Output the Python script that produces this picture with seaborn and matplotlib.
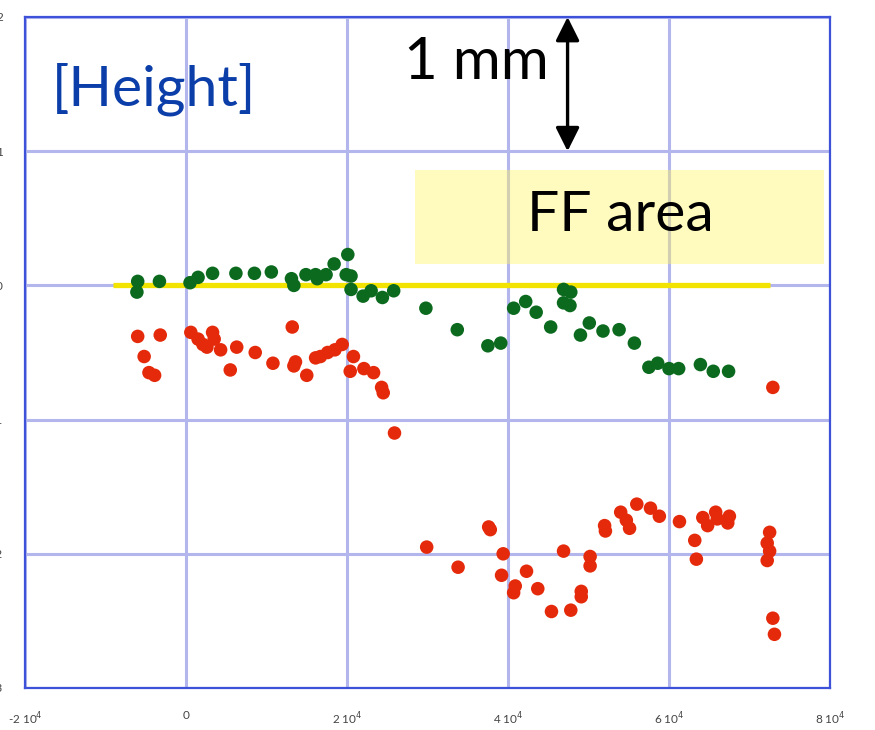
import numpy as np
import pandas as pd
import matplotlib
matplotlib.use("Agg")
import matplotlib.pyplot as plt
import seaborn as sns

# ---- data (x in units of 1e4, y in mm) ----
green_x = [-0.60, -0.61, -0.33, 0.05, 0.15, 0.33, 0.62, 0.85, 1.06, 1.31, 1.34, 1.49, 1.61, 1.63,
           1.74, 1.84, 2.01, 1.99, 2.05, 2.05, 2.20, 2.30, 2.44, 2.58, 2.98, 3.37, 3.75, 3.91,
           4.07, 4.22, 4.35, 4.53, 4.69, 4.78, 4.69, 4.77, 4.90, 5.01, 5.18, 5.38, 5.57, 5.75,
           5.86, 6.00, 6.12, 6.39, 6.55, 6.74]
green_y = [0.03, -0.05, 0.03, 0.02, 0.06, 0.09, 0.09, 0.09, 0.10, 0.05, 0.00, 0.08, 0.08, 0.05,
           0.08, 0.16, 0.23, 0.08, 0.07, -0.03, -0.08, -0.04, -0.09, -0.04, -0.17, -0.33, -0.45, -0.43,
           -0.17, -0.12, -0.20, -0.31, -0.03, -0.05, -0.13, -0.15, -0.37, -0.28, -0.34, -0.33, -0.43, -0.61,
           -0.58, -0.62, -0.62, -0.59, -0.64, -0.64]

red_x = [-0.60, -0.52, -0.46, -0.39, -0.32, 0.06, 0.15, 0.21, 0.26, 0.33, 0.35, 0.43, 0.63, 0.55,
         0.86, 1.08, 1.32, 1.36, 1.34, 1.50, 1.61, 1.67, 1.76, 1.85, 1.94, 2.08, 2.04, 2.21, 2.33,
         2.43, 2.45, 2.59, 2.99, 3.38, 3.76, 3.78, 3.94, 3.92, 4.09, 4.07, 4.23, 4.37, 4.54, 4.69,
         4.78, 4.91, 4.91, 5.02, 5.02, 5.20, 5.21, 5.40, 5.47, 5.51, 5.60, 5.77, 5.88, 6.13, 6.32,
         6.34, 6.42, 6.48, 6.58, 6.60, 6.75, 6.73, 7.25, 7.22, 7.25, 7.22, 7.29, 7.31, 7.29]
red_y = [-0.38, -0.53, -0.65, -0.67, -0.37, -0.35, -0.40, -0.44, -0.46, -0.35, -0.40, -0.48, -0.46, -0.63,
         -0.50, -0.58, -0.31, -0.57, -0.60, -0.67, -0.54, -0.53, -0.50, -0.48, -0.44, -0.53, -0.64, -0.62, -0.65,
         -0.76, -0.80, -1.10, -1.95, -2.10, -1.80, -1.82, -2.00, -2.16, -2.24, -2.29, -2.13, -2.26, -2.43, -1.98,
         -2.42, -2.28, -2.32, -2.02, -2.09, -1.79, -1.83, -1.69, -1.75, -1.81, -1.63, -1.66, -1.72, -1.76, -1.90,
         -2.04, -1.73, -1.79, -1.69, -1.74, -1.72, -1.77, -1.84, -1.92, -1.98, -2.05, -2.48, -2.60, -0.76]

x_ticks = [-2e4, 0, 2e4, 4e4, 6e4, 8e4]
x_tick_labels = ["-2 10$^4$", "0", "2 10$^4$", "4 10$^4$", "6 10$^4$", "8 10$^4$"]
y_ticks = [2, 1, 0, -1, -2, -3]
y_tick_labels = ["2", "1", "0", "-1", "-2", "-3"]

ref_line_x = [-0.91e4, 7.26e4]
ref_line_y = 0.0
ff_box_x = [2.85e4, 7.92e4]
ff_box_y = [0.16, 0.86]

df = pd.DataFrame({
    "x": np.array(green_x + red_x) * 1e4,
    "y": green_y + red_y,
    "series": ["green"] * len(green_x) + ["red"] * len(red_x),
})

sns.set_theme(style="white")
plt.rcParams["font.family"] = ["Lato", "DejaVu Sans"]

fig = plt.figure(figsize=(8.75, 7.30), dpi=100)
ax = fig.add_axes([25 / 875, 42 / 730, 805 / 875, 671 / 730])

grid_c = "#b3b6ec"
spine_c = "#3d52d9"

ax.set_xlim(-2e4, 8e4)
ax.set_ylim(-3, 2)
ax.set_xticks(x_ticks)
ax.set_xticklabels(x_tick_labels)
ax.set_yticks(y_ticks)
ax.set_yticklabels(y_tick_labels)
ax.grid(True, color=grid_c, linewidth=2.2, zorder=0)
ax.set_axisbelow(True)
for s in ax.spines.values():
    s.set_color(spine_c)
    s.set_linewidth(1.6)
ax.tick_params(axis="x", length=0, pad=16, labelsize=8.5, labelcolor="#444444")
ax.tick_params(axis="y", length=0, pad=16, labelsize=8.5, labelcolor="#444444")

# FF area box
ax.fill_between(ff_box_x, ff_box_y[0], ff_box_y[1], color="#fff45a", alpha=0.4,
                linewidth=0, zorder=1)
ax.text(5.40e4, 0.52, "FF area", fontsize=41, color="black",
        ha="center", va="center", zorder=5)

# reference line
ax.plot(ref_line_x, [ref_line_y, ref_line_y], color="#f2e400", linewidth=3.8, zorder=2,
        solid_capstyle="butt")

sns.scatterplot(data=df, x="x", y="y", hue="series",
                palette={"green": "#0b6a1e", "red": "#e42a0a"},
                s=95, edgecolor="none", legend=False, ax=ax, zorder=3)
ax.set_xlabel("")
ax.set_ylabel("")

# 1 mm arrow
ax.annotate("", xy=(4.74e4, 2.0), xytext=(4.74e4, 1.0),
            arrowprops=dict(arrowstyle="<|-|>", color="black", lw=2.4,
                            mutation_scale=36, shrinkA=0, shrinkB=0), zorder=6)
ax.text(3.61e4, 1.66, "1 mm", fontsize=42, color="black", ha="center", va="center", zorder=6)

ax.text(-1.67e4, 1.46, "[Height]", fontsize=41, color="#0b3ea8", ha="left", va="center", zorder=6)

fig.savefig("out.png", dpi=100)
